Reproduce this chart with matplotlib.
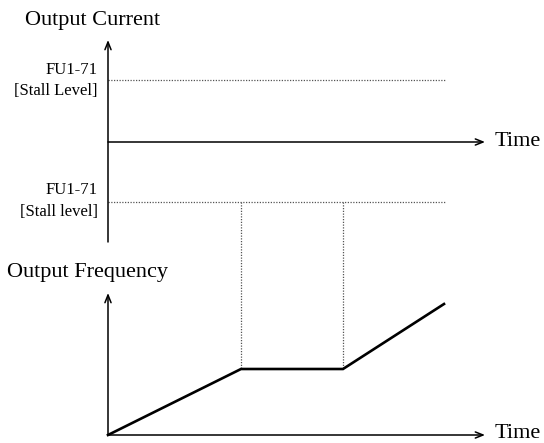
import matplotlib.pyplot as plt
import numpy as np

plt.rcParams['font.family'] = ['Liberation Serif', 'DejaVu Serif']

# frequency profile (time, frequency) in diagram units
time_pts = [0.0, 1.33, 2.35, 3.36]
freq_pts = [0.0, 0.66, 0.66, 1.31]
# stall window in time, stall levels for current
stall_start = 1.33
stall_end = 2.35
stall_hi = 0.62
stall_lo = -0.60
stall_label_hi = ['FU1-71', '[Stall Level]']
stall_label_lo = ['FU1-71', '[Stall level]']

# panel origins (figure units, 1 unit = 100 px)
x0 = 1.08
top_y0 = 3.01
bot_y0 = 0.08

fig = plt.figure(figsize=(5.44, 4.43), dpi=100)
ax = fig.add_axes([0, 0, 1, 1])
ax.set_xlim(0, 5.44)
ax.set_ylim(0, 4.43)
ax.axis('off')

arr = dict(arrowstyle='->,head_length=0.55,head_width=0.22', lw=1.1, color='black',
           shrinkA=0, shrinkB=0)

# top panel: output current axes
ax.annotate('', xy=(x0, top_y0 + 1.02), xytext=(x0, top_y0 - 1.0), arrowprops=arr)
ax.annotate('', xy=(x0 + 3.77, top_y0), xytext=(x0, top_y0), arrowprops=arr)
ax.text(0.25, 4.22, 'Output Current', fontsize=16, ha='left', va='center')
ax.text(4.95, top_y0, 'Time', fontsize=16, ha='left', va='center')

dot = dict(color='#555555', lw=0.9, linestyle=(0, (1, 1.2)))
ax.plot([x0, x0 + 3.37], [top_y0 + stall_hi] * 2, **dot)
ax.plot([x0, x0 + 3.37], [top_y0 + stall_lo] * 2, **dot)

ax.text(0.98, top_y0 + stall_hi + 0.10, stall_label_hi[0], fontsize=12, ha='right', va='center')
ax.text(0.98, top_y0 + stall_hi - 0.11, stall_label_hi[1], fontsize=12, ha='right', va='center')
ax.text(0.98, top_y0 + stall_lo + 0.12, stall_label_lo[0], fontsize=12, ha='right', va='center')
ax.text(0.98, top_y0 + stall_lo - 0.10, stall_label_lo[1], fontsize=12, ha='right', va='center')

# stall window guide lines down to frequency curve
for ts in [stall_start, stall_end]:
    fs = np.interp(ts, time_pts, freq_pts)
    ax.plot([x0 + ts, x0 + ts], [top_y0 + stall_lo, bot_y0 + fs], **dot)

# bottom panel: output frequency
ax.annotate('', xy=(x0, bot_y0 + 1.42), xytext=(x0, bot_y0), arrowprops=arr)
ax.annotate('', xy=(x0 + 3.77, bot_y0), xytext=(x0, bot_y0), arrowprops=arr)
ax.text(0.07, 1.71, 'Output Frequency', fontsize=16, ha='left', va='center')
ax.text(4.95, bot_y0 + 0.02, 'Time', fontsize=16, ha='left', va='center')

ax.plot(x0 + np.array(time_pts), bot_y0 + np.array(freq_pts), color='black', lw=1.9,
        solid_joinstyle='miter')

fig.savefig('out.png', dpi=100)
